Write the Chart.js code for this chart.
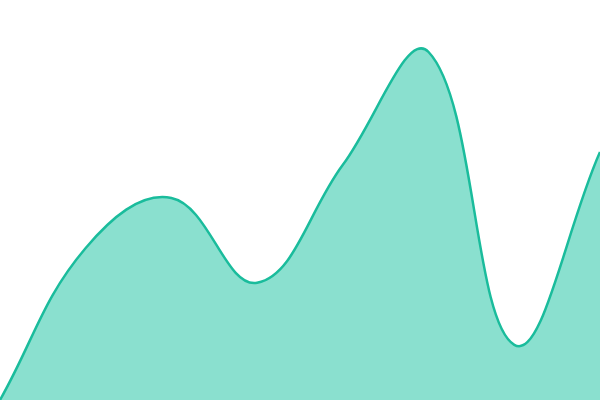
<!DOCTYPE html>
<html>
<head>
<meta charset="utf-8">
<script src="https://cdn.jsdelivr.net/npm/chart.js@4/dist/chart.umd.min.js"></script>
<style>
    html, body { margin: 0; padding: 0; background: #fff; }
    #wrap { width: 600px; height: 400px; }
</style>
</head>
<body>
<div id="wrap"><canvas id="areaChart"></canvas></div>
<script>
// Chart data
const labels = ['1', '2', '3', '4', '5', '6', '7', '8'];
const values = [0, 38, 50.5, 29.3, 58.8, 87, 13.8, 62];

const ctx = document.getElementById('areaChart');
new Chart(ctx, {
    type: 'line',
    data: {
        labels: labels,
        datasets: [{
            data: values,
            borderColor: '#1abc9c',
            backgroundColor: '#8ae0cf',
            borderWidth: 2.5,
            fill: 'origin',
            tension: 0.4,
            pointRadius: 0
        }]
    },
    options: {
        responsive: true,
        maintainAspectRatio: false,
        animation: false,
        layout: { padding: 0 },
        plugins: {
            legend: { display: false },
            tooltip: { enabled: false }
        },
        scales: {
            x: { display: false, offset: false },
            y: { display: false, min: 0, max: 100 }
        }
    }
});
</script>
</body>
</html>
